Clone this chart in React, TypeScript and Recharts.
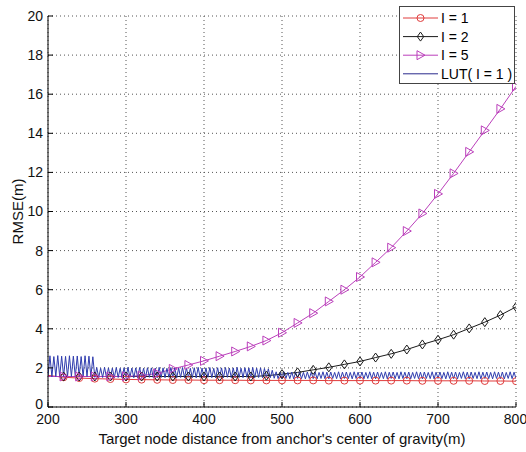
import React from 'react';
import { LineChart, Line, XAxis, YAxis, CartesianGrid, Legend } from 'recharts';

const distances = [200, 220, 240, 260, 280, 300, 320, 340, 360, 380, 400, 420, 440, 460, 480, 500, 520, 540, 560, 580, 600, 620, 640, 660, 680, 700, 720, 740, 760, 780, 800];
const rmseI1 = [1.62, 1.52, 1.48, 1.45, 1.43, 1.41, 1.4, 1.39, 1.38, 1.38, 1.37, 1.37, 1.37, 1.36, 1.36, 1.36, 1.36, 1.36, 1.35, 1.35, 1.35, 1.35, 1.35, 1.35, 1.34, 1.34, 1.34, 1.34, 1.33, 1.33, 1.32];
const rmseI2 = [1.56, 1.56, 1.56, 1.56, 1.56, 1.56, 1.56, 1.56, 1.56, 1.56, 1.56, 1.56, 1.56, 1.56, 1.6, 1.68, 1.77, 1.9, 2.03, 2.18, 2.33, 2.53, 2.72, 2.94, 3.2, 3.44, 3.7, 4.02, 4.34, 4.7, 5.12];
const rmseI5 = [1.56, 1.56, 1.56, 1.56, 1.56, 1.57, 1.6, 1.72, 1.95, 2.15, 2.36, 2.6, 2.84, 3.1, 3.4, 3.8, 4.3, 4.8, 5.4, 6.0, 6.65, 7.4, 8.15, 9.0, 9.9, 10.9, 11.95, 13.05, 14.15, 15.25, 16.4];

const lutStart = 200;
const lutStep = 2.5;
const rmseLut = [
  1.58, 2.62, 1.55, 2.58, 1.56, 2.63, 1.55, 2.6, 1.57, 2.59, 1.55, 2.62, 1.56, 2.6, 1.55, 2.61, 1.57, 2.58, 1.55, 2.62, 1.56, 2.6, 1.55, 2.57,
  1.52, 2.02, 1.5, 1.98, 1.51, 2.03, 1.49, 2.0, 1.52, 1.99, 1.5, 2.02, 1.51, 1.98, 1.49, 2.01, 1.5, 2.03, 1.52, 1.99,
  1.5, 2.0, 1.49, 2.02, 1.51, 1.98, 1.5, 2.01, 1.52, 2.0, 1.5, 1.99, 1.49, 2.03, 1.51, 2.0, 1.5, 1.98, 1.52, 2.02,
  1.5, 2.0, 1.49, 1.99, 1.51, 2.02, 1.5, 2.0, 1.52, 1.98, 1.5, 2.01, 1.49, 2.03, 1.51, 1.99, 1.5, 2.0, 1.52, 2.02,
  1.5, 1.98, 1.49, 2.01, 1.51, 2.0, 1.5, 2.02, 1.52, 1.99, 1.5, 2.0, 1.49, 2.03, 1.51, 1.98, 1.5, 2.01, 1.52, 2.0,
  1.5, 2.02, 1.49, 1.99, 1.51, 2.0, 1.5, 1.97, 1.52, 1.95, 1.5, 1.88,
  1.47, 1.8, 1.45, 1.78, 1.44, 1.8, 1.46, 1.77, 1.45, 1.79, 1.44, 1.78, 1.46, 1.8, 1.45, 1.77, 1.44, 1.79, 1.46, 1.78,
  1.45, 1.79, 1.44, 1.77, 1.46, 1.8, 1.45, 1.78, 1.44, 1.79, 1.46, 1.77, 1.45, 1.8, 1.44, 1.78, 1.46, 1.79, 1.45, 1.77,
  1.44, 1.8, 1.46, 1.78, 1.45, 1.79, 1.44, 1.77, 1.46, 1.8, 1.45, 1.78, 1.44, 1.79, 1.46, 1.77, 1.45, 1.8, 1.44, 1.78,
  1.46, 1.79, 1.45, 1.77, 1.44, 1.8, 1.46, 1.78, 1.45, 1.79, 1.44, 1.77, 1.46, 1.8, 1.45, 1.78, 1.44, 1.79, 1.46, 1.77,
  1.45, 1.8, 1.44, 1.78, 1.46, 1.79, 1.45, 1.77, 1.44, 1.8, 1.46, 1.78, 1.45, 1.79, 1.44, 1.77, 1.46, 1.8, 1.45, 1.78,
  1.44, 1.79, 1.46, 1.77, 1.45, 1.8, 1.44, 1.78, 1.46, 1.79, 1.45, 1.77, 1.44, 1.8, 1.46, 1.78, 1.45, 1.79, 1.44, 1.77,
  1.46, 1.8, 1.45, 1.78, 1.45,
];

const xTicks = [200, 300, 400, 500, 600, 700, 800];
const yTicks = [0, 2, 4, 6, 8, 10, 12, 14, 16, 18, 20];
const seriesLabels = ['I = 1', 'I = 2', 'I = 5', 'LUT( I = 1 )'];
const xLabel = "Target node distance from anchor's center of gravity(m)";
const yLabel = 'RMSE(m)';

const RED = '#e03c3c';
const BLACK = '#1a1a1a';
const MAGENTA = '#bb3fbb';
const NAVY = '#2f3cae';
const LEGEND_NAVY = '#2a2a8c';
const FONT = '"Liberation Sans", Arial, sans-serif';

const dataI1 = distances.map((x, i) => ({ x, y: rmseI1[i] }));
const dataI2 = distances.map((x, i) => ({ x, y: rmseI2[i] }));
const dataI5 = distances.map((x, i) => ({ x, y: rmseI5[i] }));
const dataLut = rmseLut.map((y, i) => ({ x: lutStart + i * lutStep, y }));

type Shape = 'circle' | 'diamond' | 'triangle' | 'none';

function markerEl(shape: Shape, cx: number, cy: number, color: string, key?: string) {
  if (shape === 'circle') return <circle key={key} cx={cx} cy={cy} r={3.5} fill="none" stroke={color} strokeWidth={1} />;
  if (shape === 'diamond')
    return <path key={key} d={`M${cx},${cy - 4.5}L${cx + 3.2},${cy}L${cx},${cy + 4.5}L${cx - 3.2},${cy}Z`} fill="none" stroke={color} strokeWidth={1} />;
  if (shape === 'triangle')
    return <path key={key} d={`M${cx + 4.5},${cy}L${cx - 3.5},${cy - 4.5}L${cx - 3.5},${cy + 4.5}Z`} fill="none" stroke={color} strokeWidth={1} />;
  return <g key={key} />;
}

const makeDot = (shape: Shape, color: string) => (props: any) => {
  const { cx, cy, payload, index } = props;
  const k = `d-${shape}-${index}`;
  if (payload == null || payload.x <= 200 || cx == null || cy == null) return <g key={k} />;
  return markerEl(shape, cx, cy, color, k);
};

const legendItems: { label: string; color: string; shape: Shape }[] = [
  { label: seriesLabels[0], color: RED, shape: 'circle' },
  { label: seriesLabels[1], color: BLACK, shape: 'diamond' },
  { label: seriesLabels[2], color: MAGENTA, shape: 'triangle' },
  { label: seriesLabels[3], color: LEGEND_NAVY, shape: 'none' },
];

const renderLegend = () => (
  <svg width={117} height={78} style={{ display: 'block' }}>
    <rect x={0.5} y={0.5} width={115} height={77} fill="#fff" stroke="#444" strokeWidth={1} />
    {legendItems.map((it, i) => {
      const cy = 12 + i * 18.6;
      return (
        <g key={it.label}>
          <line x1={4} x2={39} y1={cy} y2={cy} stroke={it.color} strokeWidth={1} />
          {markerEl(it.shape, 21.5, cy, it.color)}
          <text x={42} y={cy} dy="0.36em" fontSize={14} fontFamily={FONT} fill="#000">
            {it.label}
          </text>
        </g>
      );
    })}
  </svg>
);

const renderYLabel = (props: any) => {
  const vb = props.viewBox || { x: 0, y: 16, width: 48, height: 391 };
  const x = vb.x + 23;
  const y = vb.y + vb.height / 2;
  return (
    <text x={x} y={y} transform={`rotate(-90 ${x} ${y})`} textAnchor="middle" fontSize={15} fontFamily={FONT} fill="#111">
      {yLabel}
    </text>
  );
};

const renderYTick = (props: any) => {
  const { x, y, payload } = props;
  const lift = payload.value === 0 ? -3 : 0;
  return (
    <text x={x} y={y + lift} dy="0.355em" textAnchor="end" fontSize={14} fontFamily={FONT} fill="#111">
      {payload.value}
    </text>
  );
};

const tickStyle = { fontSize: 14, fontFamily: FONT, fill: '#111' };

export default function App() {
  return (
    <div style={{ position: 'absolute', left: 0, top: 0, width: 526, height: 452, background: '#fff' }}>
      <LineChart width={526} height={452} margin={{ top: 16, right: 10, bottom: 0, left: 0 }}>
        <CartesianGrid stroke="#555" strokeDasharray="1 3" strokeWidth={1} />
        <XAxis
          dataKey="x"
          type="number"
          domain={[200, 800]}
          ticks={xTicks}
          allowDataOverflow
          height={45}
          tickSize={-5}
          tickMargin={12}
          tick={tickStyle}
          stroke="#000"
          label={{ value: xLabel, position: 'insideBottom', offset: 8, fontSize: 15, fontFamily: FONT, fill: '#111' }}
        />
        <XAxis
          xAxisId="top"
          orientation="top"
          dataKey="x"
          type="number"
          domain={[200, 800]}
          ticks={xTicks}
          allowDataOverflow
          height={0}
          tickSize={-5}
          tick={false}
          stroke="#000"
        />
        <YAxis
          type="number"
          domain={[0, 20]}
          ticks={yTicks}
          allowDataOverflow
          width={48}
          tickSize={-5}
          tickMargin={10}
          tick={renderYTick}
          stroke="#000"
          label={renderYLabel}
        />
        <YAxis
          yAxisId="right"
          orientation="right"
          type="number"
          domain={[0, 20]}
          ticks={yTicks}
          allowDataOverflow
          width={0}
          tickSize={-5}
          tick={false}
          stroke="#000"
        />
        <Line data={dataI1} dataKey="y" stroke={RED} strokeWidth={1} dot={makeDot('circle', RED)} activeDot={false} isAnimationActive={false} />
        <Line data={dataI2} dataKey="y" stroke={BLACK} strokeWidth={1} dot={makeDot('diamond', BLACK)} activeDot={false} isAnimationActive={false} />
        <Line data={dataI5} dataKey="y" stroke={MAGENTA} strokeWidth={1} dot={makeDot('triangle', MAGENTA)} activeDot={false} isAnimationActive={false} />
        <Line data={dataLut} dataKey="y" stroke={NAVY} strokeWidth={1} dot={false} activeDot={false} isAnimationActive={false} />
        <Legend
          layout="vertical"
          align="center"
          verticalAlign="middle"
          content={renderLegend}
          wrapperStyle={{ left: 399, top: 6, width: 117, height: 78, margin: 0, padding: 0 }}
        />
      </LineChart>
    </div>
  );
}
